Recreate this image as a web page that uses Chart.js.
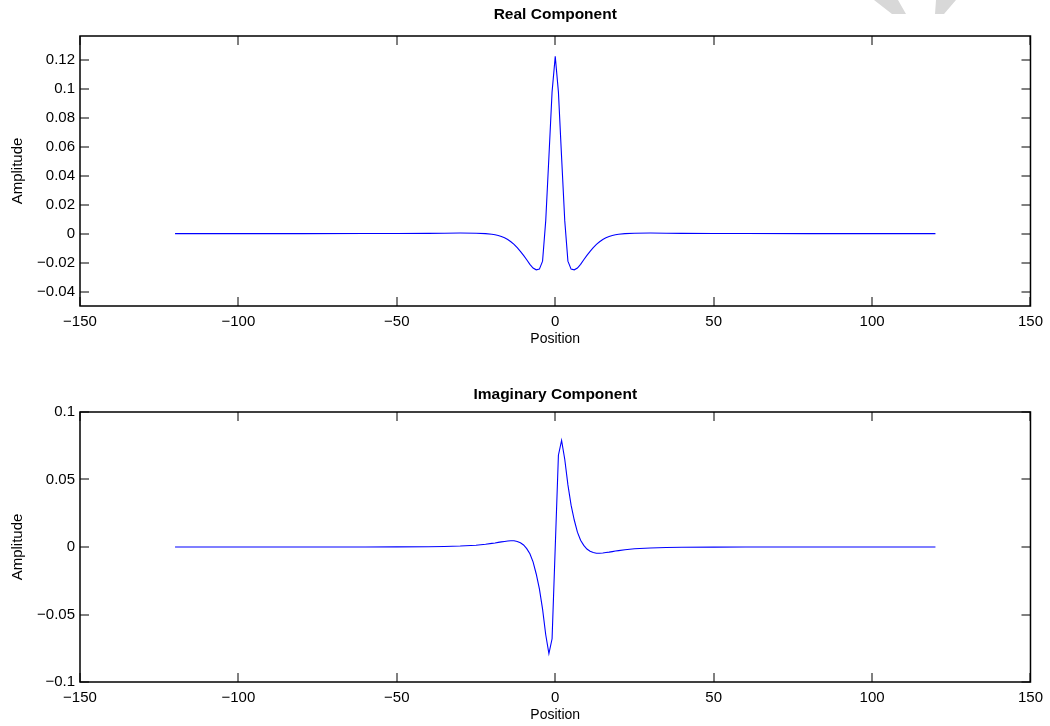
<!DOCTYPE html>
<html><head><meta charset="utf-8">
<script src="https://cdn.jsdelivr.net/npm/chart.js@4.4.1/dist/chart.umd.min.js"></script>
<style>
html,body{margin:0;padding:0;background:#fff;}
#wrap{position:relative;width:1050px;height:726px;overflow:hidden;background:#fff;}
.box{position:absolute;left:0;width:1050px;height:350px;}
</style></head><body>
<div id="wrap">
<div class="box" style="top:0"><canvas id="c1"></canvas></div>
<div class="box" style="top:376px"><canvas id="c2"></canvas></div>
</div>
<script>
const positions = [-120,-100,-80,-60,-50,-40,-35,-30,-25,-22,-20,-19,-18,-17,-16,-15,-14,-13,-12,-11,-10,-9,-8,-7,-6,-5,-4,-3,-2,-1,0,1,2,3,4,5,6,7,8,9,10,11,12,13,14,15,16,17,18,19,20,22,25,30,35,40,50,60,80,100,120];
const realValues = [0,0,0,0.0001,0.0001,0.0002,0.0003,0.0004,0.0003,0,-0.0004,-0.0008,-0.0013,-0.0020,-0.0029,-0.0041,-0.0056,-0.0074,-0.0097,-0.0122,-0.0150,-0.0180,-0.0212,-0.0238,-0.0250,-0.0245,-0.019,0.009,0.053,0.098,
  0.1225,
  0.098,0.053,0.009,-0.019,-0.0245,-0.0250,-0.0238,-0.0212,-0.0180,-0.0150,-0.0122,-0.0097,-0.0074,-0.0056,-0.0041,-0.0029,-0.0020,-0.0013,-0.0008,-0.0004,0,0.0003,0.0004,0.0003,0.0002,0.0001,0.0001,0,0,0];
const imagValues = [0,0,0,0,0.0001,0.0002,0.0004,0.0007,0.0013,0.0020,0.0027,0.0030,0.0034,0.0038,0.0041,0.0044,0.0046,0.0046,0.0041,0.0031,0.0015,-0.0012,-0.005,-0.011,-0.020,-0.031,-0.046,-0.065,-0.079,-0.068,
  0,
  0.068,0.079,0.065,0.046,0.031,0.020,0.011,0.005,0.0012,-0.0015,-0.0031,-0.0041,-0.0046,-0.0046,-0.0044,-0.0041,-0.0038,-0.0034,-0.0030,-0.0027,-0.0020,-0.0013,-0.0007,-0.0004,-0.0002,-0.0001,0,0,0,0];
const xTicks = [-150,-100,-50,0,50,100,150];
const xTickLabels = ['\u2212150','\u2212100','\u221250','0','50','100','150'];
const realYTicks = [-0.04,-0.02,0,0.02,0.04,0.06,0.08,0.1,0.12];
const realYTickLabels = ['\u22120.04','\u22120.02','0','0.02','0.04','0.06','0.08','0.1','0.12'];
const imagYTicks = [-0.1,-0.05,0,0.05,0.1];
const imagYTickLabels = ['\u22120.1','\u22120.05','0','0.05','0.1'];
const xRange = [-150,150];
const realYRange = [-0.05,0.1366];
const imagYRange = [-0.1,0.1];

const FONT = "'Liberation Sans', Arial, Helvetica, sans-serif";

const boxTicks = {
  id:'boxTicks',
  afterDatasetsDraw(chart){
    const {ctx, chartArea:a, scales:{x,y}} = chart;
    const L = 9;
    ctx.save();
    ctx.strokeStyle = '#000';
    ctx.lineWidth = 1;
    ctx.beginPath();
    x.ticks.forEach(t=>{
      const p = Math.round(x.getPixelForValue(t.value));
      ctx.moveTo(p,a.bottom); ctx.lineTo(p,a.bottom-L);
      ctx.moveTo(p,a.top); ctx.lineTo(p,a.top+L);
    });
    y.ticks.forEach(t=>{
      const p = Math.round(y.getPixelForValue(t.value));
      ctx.moveTo(a.left,p); ctx.lineTo(a.left+L,p);
      ctx.moveTo(a.right,p); ctx.lineTo(a.right-L,p);
    });
    ctx.stroke();
    ctx.lineWidth = 1.5;
    ctx.strokeRect(a.left, a.top, a.right-a.left, a.bottom-a.top);
    ctx.restore();
  }
};

// axes title centred over the plot box (like the reference)
const boxTitle = {
  id:'boxTitle',
  afterDraw(chart, args, opts){
    const {ctx, chartArea:a} = chart;
    ctx.save();
    ctx.fillStyle = '#000';
    ctx.font = 'bold 15.5px ' + FONT;
    ctx.textAlign = 'center';
    ctx.textBaseline = 'middle';
    ctx.fillText(opts.text, (a.left + a.right)/2, opts.y);
    ctx.restore();
  }
};

const watermark = {
  id:'watermark',
  afterDraw(chart){
    const ctx = chart.ctx;
    ctx.save();
    ctx.fillStyle = '#d8d8d8';
    ctx.beginPath();
    ctx.moveTo(874,0); ctx.lineTo(898,0); ctx.lineTo(906,14); ctx.lineTo(892,14); ctx.closePath();
    ctx.moveTo(936,0); ctx.lineTo(956,0); ctx.lineTo(944,14); ctx.lineTo(935,14); ctx.closePath();
    ctx.fill();
    ctx.restore();
  }
};

function makeChart(id, values, yTicks, yLabels, yRange, titleText, titleY, extraPlugins){
  return new Chart(document.getElementById(id), {
    type:'scatter',
    data:{datasets:[{
      data: positions.map((p,i)=>({x:p,y:values[i]})),
      showLine:true, borderColor:'#0000ff', borderWidth:1.1,
      pointRadius:0, pointHoverRadius:0, tension:0, fill:false
    }]},
    options:{
      responsive:true, maintainAspectRatio:false, animation:false, devicePixelRatio:1,
      events:[],
      layout:{padding:{left:0,right:19,top:36,bottom:0}},
      plugins:{
        legend:{display:false}, tooltip:{enabled:false}, title:{display:false},
        boxTitle:{text:titleText, y:titleY}
      },
      scales:{
        x:{type:'linear', min:xRange[0], max:xRange[1],
          afterBuildTicks:s=>{s.ticks = xTicks.map(v=>({value:v}));},
          afterFit:s=>{s.height = 44;},
          grid:{display:false, drawTicks:false}, border:{display:false},
          ticks:{padding:7, color:'#000', font:{family:FONT,size:15}, maxRotation:0, autoSkip:false,
            callback:(v,i)=>xTickLabels[i]},
          title:{display:true, text:'Position', color:'#000', font:{family:FONT,size:14}, padding:{top:0,bottom:2}}
        },
        y:{type:'linear', min:yRange[0], max:yRange[1],
          afterBuildTicks:s=>{s.ticks = yTicks.map(v=>({value:v}));},
          afterFit:s=>{s.width = 80;},
          grid:{display:false, drawTicks:false}, border:{display:false},
          ticks:{padding:5, color:'#000', font:{family:FONT,size:15}, autoSkip:false,
            callback:(v,i)=>yLabels[i]},
          title:{display:true, text:'Amplitude', color:'#000', font:{family:FONT,size:15}, padding:{top:9,bottom:0}}
        }
      }
    },
    plugins:[boxTicks, boxTitle].concat(extraPlugins||[])
  });
}

makeChart('c1', realValues, realYTicks, realYTickLabels, realYRange, 'Real Component', 15, [watermark]);
makeChart('c2', imagValues, imagYTicks, imagYTickLabels, imagYRange, 'Imaginary Component', 19);
</script>
</body></html>
